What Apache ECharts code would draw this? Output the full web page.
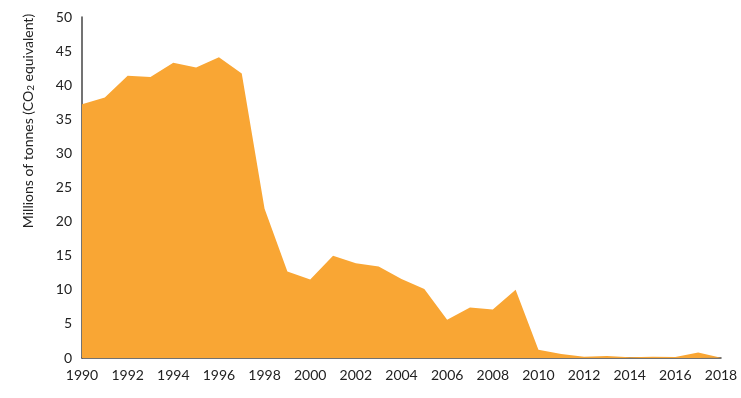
<!DOCTYPE html>
<html>
<head>
    <meta charset="utf-8">
    <title>Emissions</title>
    <style>
        html, body { margin: 0; padding: 0; background: #fff; }
        #chart { width: 741px; height: 398px; }
    </style>
</head>
<body>
    <div id="chart"></div>
    <script src="https://cdn.jsdelivr.net/npm/echarts@6/dist/echarts.min.js"></script>
    <script>
        // years and values (millions of tonnes CO2 eq.)
        var years = ['1990', '1991', '1992', '1993', '1994', '1995', '1996', '1997', '1998', '1999',
            '2000', '2001', '2002', '2003', '2004', '2005', '2006', '2007', '2008', '2009',
            '2010', '2011', '2012', '2013', '2014', '2015', '2016', '2017', '2018'];
        var emissions = [37.2, 38.2, 41.4, 41.2, 43.3, 42.6, 44.1, 41.7, 21.9, 12.7,
            11.5, 15.0, 13.9, 13.4, 11.6, 10.1, 5.6, 7.4, 7.1, 10.0,
            1.2, 0.6, 0.2, 0.3, 0.1, 0.2, 0.15, 0.8, 0.05];
        var yTitle = 'Millions of tonnes (CO{sub|2} equivalent)';

        var chart = echarts.init(document.getElementById('chart'));
        var font = 'Lato, "Open Sans", sans-serif';

        chart.setOption({
            animation: false,
            grid: { left: 82, right: 20, top: 17, bottom: 40 },
            graphic: [{
                type: 'text',
                x: 28, y: 121,
                rotation: Math.PI / 2,
                style: {
                    text: yTitle,
                    align: 'center',
                    verticalAlign: 'middle',
                    font: '14px ' + font,
                    fill: '#222',
                    rich: {
                        sub: { fontSize: 10, fontFamily: 'Lato', verticalAlign: 'bottom', padding: [6, 0, 0, 0], fill: '#222' }
                    }
                }
            }],
            xAxis: {
                type: 'category',
                data: years,
                boundaryGap: false,
                axisLine: { lineStyle: { color: '#444', width: 1.5 } },
                axisTick: { show: false },
                axisLabel: { interval: 1, color: '#222', fontSize: 14, fontFamily: font, margin: 10 }
            },
            yAxis: {
                type: 'value',
                min: 0, max: 50, interval: 5,
                axisLine: { show: true, lineStyle: { color: '#444', width: 1.5 } },
                axisTick: { show: false },
                splitLine: { show: false },
                axisLabel: { color: '#222', fontSize: 14, fontFamily: font, margin: 10 }
            },
            series: [{
                type: 'line',
                data: emissions,
                showSymbol: false,
                lineStyle: { width: 0 },
                areaStyle: { color: '#F9A634', opacity: 1 }
            }]
        });
    </script>
</body>
</html>
